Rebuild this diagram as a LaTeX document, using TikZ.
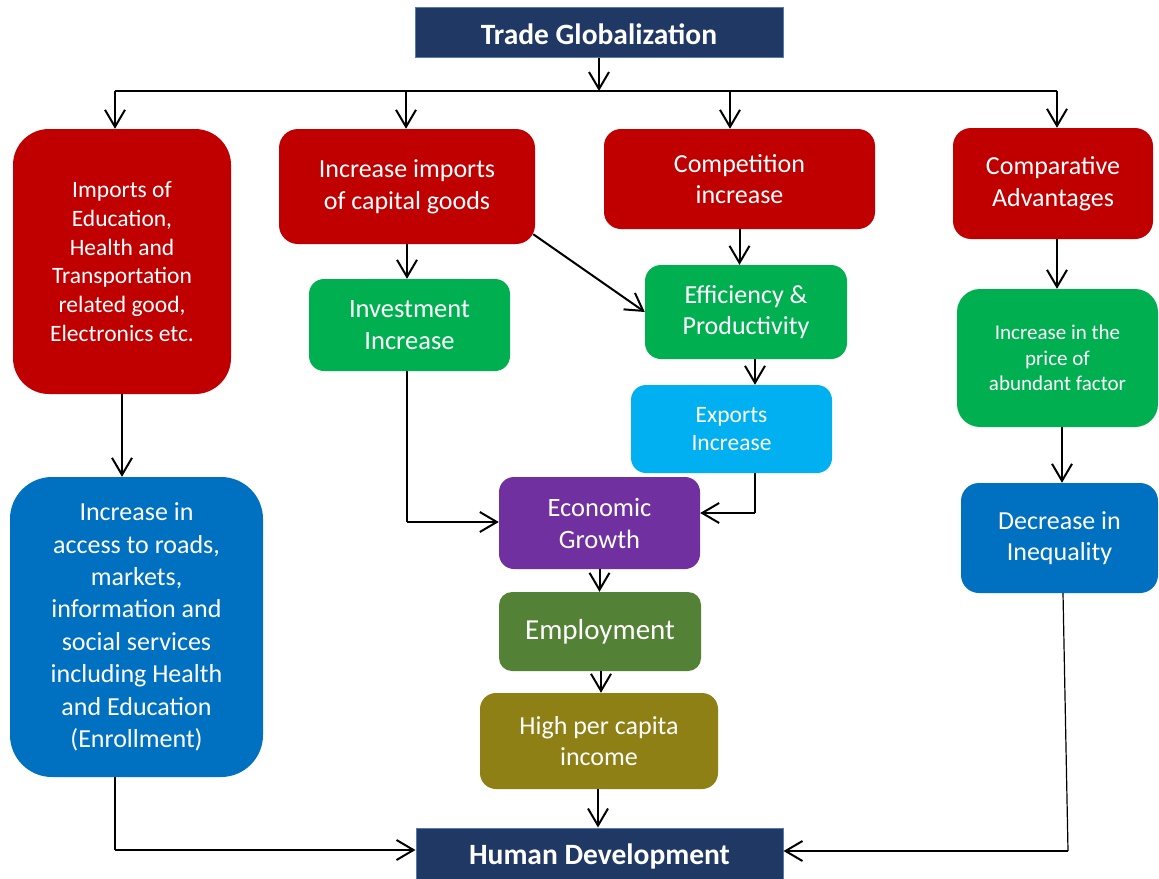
\documentclass[tikz,border=0pt]{standalone}
\usepackage{fontspec}
\setmainfont{Carlito}
\usetikzlibrary{arrows.meta}

\definecolor{navy}{RGB}{32,56,100}
\definecolor{navyedge}{RGB}{84,122,176}
\definecolor{darkred}{RGB}{192,0,0}
\definecolor{brightgreen}{RGB}{0,176,80}
\definecolor{skyblue}{RGB}{0,176,240}
\definecolor{purple}{RGB}{112,48,160}
\definecolor{leafgreen}{RGB}{83,129,53}
\definecolor{olive}{RGB}{143,128,22}
\definecolor{midblue}{RGB}{0,112,192}

\begin{document}
\begin{tikzpicture}[x=1pt,y=-1pt,
  box/.style={rectangle, text=white, align=center, inner sep=0pt},
  title/.style={box, fill=navy, draw=navyedge, line width=1pt,
                font=\fontsize{29.5}{36}\selectfont\bfseries},
  arr/.style={-{Straight Barb[length=17pt,width=20pt]}, line width=2pt},
  thick line/.style={line width=2pt},
  thin line/.style={line width=1.2pt}
]
\useasboundingbox (0,0) rectangle (1159,878);

% top and bottom title bars
\node[title, minimum width=368pt, minimum height=50pt, text height=25.6pt, text depth=0pt]
  (TG) at (599,32) {Trade Globalization};
\node[title, minimum width=367pt, minimum height=56pt] (HD) at (599.5,856) {Human Development};

% first row: red driver boxes
\node[box, fill=darkred, minimum width=218pt, minimum height=265pt, rounded corners=36pt,
      font=\fontsize{23.5}{28.7}\selectfont] (IMP) at (122,261.5)
  {Imports of\\Education,\\Health and\\Transportation\\related good,\\Electronics etc.};
\node[box, fill=darkred, minimum width=256pt, minimum height=115pt, rounded corners=19pt,
      font=\fontsize{26}{31.7}\selectfont] (CAP) at (407,186.5)
  {Increase imports\\of capital goods};
\node[box, fill=darkred, minimum width=271pt, minimum height=100pt, rounded corners=17pt,
      font=\fontsize{26}{31.7}\selectfont] (COMP) at (739.5,179)
  {Competition\\increase};
\node[box, fill=darkred, minimum width=200pt, minimum height=111pt, rounded corners=18pt,
      font=\fontsize{26}{31.7}\selectfont] (ADV) at (1053,183.5)
  {Comparative\\Advantages};

% second row
\node[box, fill=brightgreen, minimum width=201pt, minimum height=92pt, rounded corners=15pt,
      font=\fontsize{26.5}{32}\selectfont] (INV) at (409.5,325)
  {Investment\\Increase};
\node[box, fill=brightgreen, minimum width=202pt, minimum height=94pt, rounded corners=16pt,
      font=\fontsize{26}{31.7}\selectfont] (EFF) at (746,312)
  {Efficiency \&\\Productivity};
\node[box, fill=brightgreen, minimum width=201pt, minimum height=138pt, rounded corners=23pt,
      font=\fontsize{21}{25.6}\selectfont] (PRICE) at (1057.5,358)
  {Increase in the\\price of\\abundant factor};
\node[box, fill=skyblue, minimum width=201pt, minimum height=88pt, rounded corners=15pt,
      font=\fontsize{23.5}{28.7}\selectfont] (EXP) at (731.5,429)
  {Exports\\Increase};

% central chain
\node[box, fill=purple, minimum width=201pt, minimum height=92pt, rounded corners=15pt,
      font=\fontsize{26.5}{32}\selectfont] (ECO) at (599.5,523)
  {Economic\\Growth};
\node[box, fill=leafgreen, minimum width=202pt, minimum height=79pt, rounded corners=13pt,
      font=\fontsize{29}{35}\selectfont] (EMP) at (600,631.5)
  {Employment};
\node[box, fill=olive, minimum width=238pt, minimum height=96pt, rounded corners=16pt,
      font=\fontsize{26}{31.7}\selectfont] (HIGH) at (599,741)
  {High per capita\\income};

% blue outcome boxes
\node[box, fill=midblue, minimum width=253pt, minimum height=300pt, rounded corners=42pt,
      font=\fontsize{26}{32.4}\selectfont] (ACC) at (136.5,627)
  {Increase in\\access to roads,\\markets,\\information and\\social services\\including Health\\and Education\\(Enrollment)};
\node[box, fill=midblue, minimum width=197pt, minimum height=110pt, rounded corners=18pt,
      font=\fontsize{26}{31.7}\selectfont] (DEC) at (1059.5,538)
  {Decrease in\\Inequality};

% distribution bus under the title
\coordinate (bus) at (599,91);
\coordinate (d1) at (115,91);
\coordinate (d2) at (406,91);
\coordinate (d3) at (730,91);
\coordinate (d4) at (1057,91);
\draw[arr] (TG.south) -- (bus);
\draw[thick line] (d1) -- (d4);
\draw[arr] (d1) -- (d1 |- IMP.north);
\draw[arr] (d2) -- (d2 |- CAP.north);
\draw[arr] (d3) -- (d3 |- COMP.north);
\draw[arr] (d4) -- (d4 |- ADV.north);

% left column
\draw[arr] (IMP.south) -- (IMP.south |- ACC.north);
\coordinate (accturn) at (115,850);
\draw[thin line] (ACC.south -| accturn) -- (accturn);
\draw[arr] (accturn) -- (accturn -| HD.west);

% capital goods branch
\draw[arr] (CAP.south) -- (CAP.south |- INV.north);
\draw[arr] ([shift={(-2,-10)}]CAP.south east) -- (EFF.west);
\coordinate (invturn) at (407,522);
\draw[thin line] (INV.south -| invturn) -- (invturn);
\draw[arr] (invturn) -- (invturn -| ECO.west);

% competition branch
\draw[arr] (COMP.south) -- (COMP.south |- EFF.north);
\coordinate (effout) at (755,359);
\draw[arr] (effout) -- (effout |- EXP.north);
\coordinate (expturn) at (755,513);
\draw[thin line] (EXP.south -| expturn) -- (expturn);
\draw[arr] (expturn) -- (expturn -| ECO.east);

% central chain
\draw[arr] (ECO.south) -- (ECO.south |- EMP.north);
\coordinate (empout) at (601,671);
\draw[arr] (empout) -- (empout |- HIGH.north);
\coordinate (highout) at (598,789);
\draw[arr] (highout) -- (highout |- HD.north);

% right column
\coordinate (advout) at (1057,239);
\draw[arr] (advout) -- (advout |- PRICE.north);
\coordinate (priceout) at (1062,427);
\draw[arr] (priceout) -- (priceout |- DEC.north);
\coordinate (decout) at (1063,593);
\coordinate (decturn) at (1068,851);
\draw[thin line] (decout) -- (decturn);
\draw[arr] (decturn) -- (decturn -| HD.east);
\end{tikzpicture}
\end{document}
